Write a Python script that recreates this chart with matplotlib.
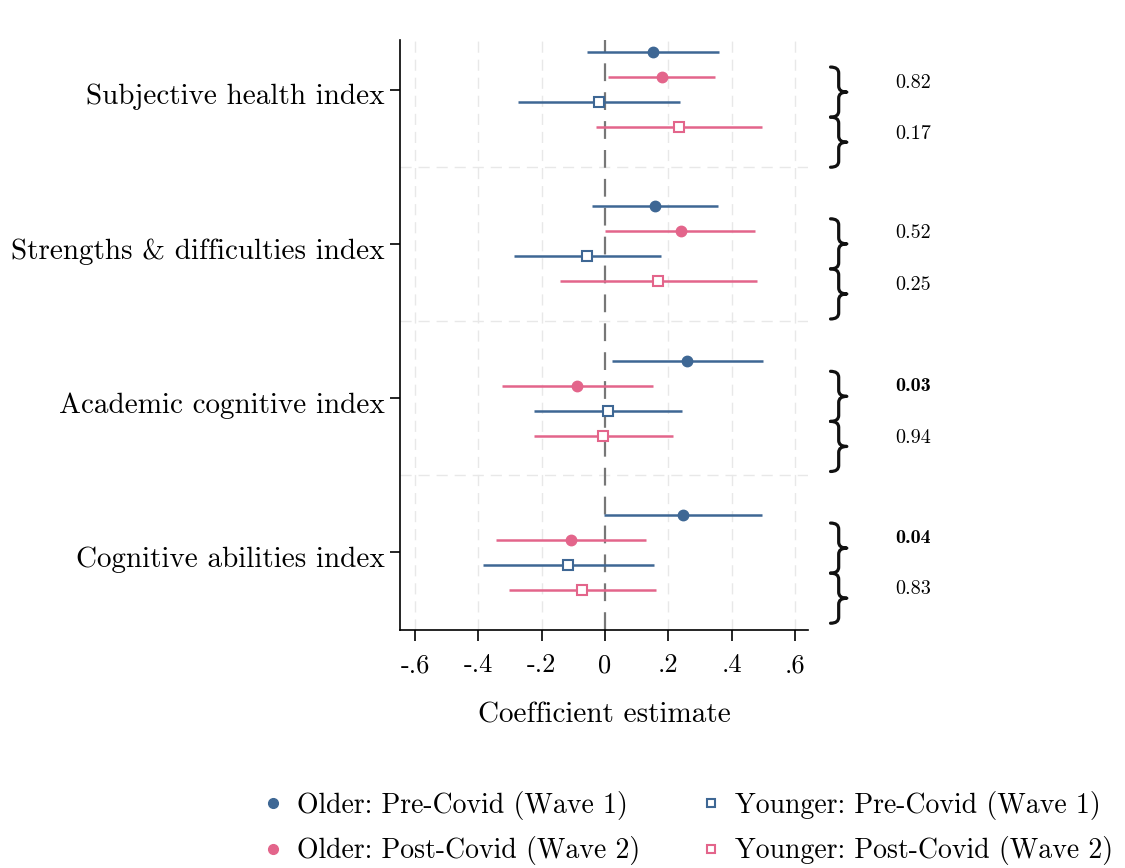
import numpy as np
import matplotlib
matplotlib.use('Agg')
import matplotlib.pyplot as plt
from matplotlib.lines import Line2D
from matplotlib.path import Path
from matplotlib.patches import PathPatch
import matplotlib.transforms as mtransforms

plt.rcParams['font.family'] = 'cmr10'
plt.rcParams['axes.formatter.use_mathtext'] = True

# outcomes (top to bottom)
outcomes = ['Subjective health index', 'Strengths & difficulties index',
            'Academic cognitive index', 'Cognitive abilities index']

# series: estimate, lower CI, upper CI (one value per outcome)
older_pre = [0.153, 0.158, 0.260, 0.245]
older_pre_lo = [-0.058, -0.040, 0.023, -0.003]
older_pre_hi = [0.360, 0.358, 0.498, 0.497]

older_post = [0.180, 0.240, -0.087, -0.108]
older_post_lo = [0.010, 0.000, -0.326, -0.344]
older_post_hi = [0.347, 0.475, 0.153, 0.128]

younger_pre = [-0.020, -0.057, 0.010, -0.116]
younger_pre_lo = [-0.276, -0.288, -0.225, -0.386]
younger_pre_hi = [0.238, 0.177, 0.244, 0.154]

younger_post = [0.233, 0.166, -0.006, -0.072]
younger_post_lo = [-0.030, -0.143, -0.224, -0.303]
younger_post_hi = [0.496, 0.479, 0.214, 0.162]

# p-values for older / younger pre vs post difference
p_older = ['0.82', '0.52', '0.03', '0.04']
p_younger = ['0.17', '0.25', '0.94', '0.83']
p_older_bold = [False, False, True, True]

xticks = [-0.6, -0.4, -0.2, 0, 0.2, 0.4, 0.6]
xticklabels = ['-.6', '-.4', '-.2', '0', '.2', '.4', '.6']

blue = '#3e6794'
pink = '#e3658b'

group_step = 6.16
groups = np.arange(len(outcomes)) * group_step

fig = plt.figure(figsize=(11.25, 8.68), dpi=100)
ax = fig.add_axes([0.3556, 0.2742, 0.3627, 0.6797])

# grid lines
for xt in xticks:
    if xt != 0:
        ax.axvline(xt, color='#e8e8e8', lw=1.0, ls=(0, (8, 5)), zorder=0)
for g in groups[:-1]:
    ax.axhline(g + 4.58, color='#e8e8e8', lw=1.0, ls=(0, (8, 5)), zorder=0)
ax.axvline(0, color='#777777', lw=1.6, ls=(0, (8, 5)), zorder=1)

series = [
    (older_pre, older_pre_lo, older_pre_hi, blue, 'o', blue, 0),
    (older_post, older_post_lo, older_post_hi, pink, 'o', pink, 1),
    (younger_pre, younger_pre_lo, younger_pre_hi, blue, 's', 'white', 2),
    (younger_post, younger_post_lo, younger_post_hi, pink, 's', 'white', 3),
]
for est, lo, hi, col, mk, fc, r in series:
    y = groups + r
    ax.hlines(y, lo, hi, color=col, lw=1.8, zorder=2)
    if mk == 'o':
        ax.plot(est, y, ls='none', marker='o', ms=7.5, color=col, zorder=3)
    else:
        ax.plot(est, y, ls='none', marker='s', ms=6.5, mfc=fc, mec=col,
                mew=1.5, zorder=3)

ax.set_xlim(-0.647, 0.641)
ax.set_ylim(groups[-1] + 3 + 1.6, -0.48)
ax.set_xticks(xticks)
ax.set_xticklabels(xticklabels, fontsize=19)
ax.set_yticks(groups + 1.5)
ax.set_yticklabels([])
ax.tick_params(axis='x', length=8, width=1.2, pad=9)
ax.tick_params(axis='y', length=7, width=1.2)
ax.spines['top'].set_visible(False)
ax.spines['right'].set_visible(False)
ax.spines['left'].set_linewidth(1.2)
ax.spines['bottom'].set_linewidth(1.2)
ax.set_xlabel('Coefficient estimate', fontsize=21, labelpad=18)

trans = mtransforms.blended_transform_factory(ax.transAxes, ax.transData)

# outcome labels, sitting a little below their tick like in Stata
for g, name in zip(groups, outcomes):
    ax.annotate(name, xy=(0, g + 1.5), xycoords=trans, xytext=(-11, -5.5),
                textcoords='offset points', ha='right', va='center',
                fontsize=21)


def brace(ax, x0, y1, y2, w):
    # right-pointing curly brace from y1 (top) to y2 (bottom)
    ym = (y1 + y2) / 2
    d = (y2 - y1) * 0.12
    xm = x0 + w / 2
    verts = [(x0, y1), (xm, y1), (xm, y1 + d),
             (xm, ym - d), (xm, ym), (x0 + w, ym),
             (xm, ym), (xm, ym + d),
             (xm, y2 - d), (xm, y2), (x0, y2)]
    codes = [Path.MOVETO, Path.CURVE3, Path.CURVE3,
             Path.LINETO, Path.CURVE3, Path.CURVE3,
             Path.CURVE3, Path.CURVE3,
             Path.LINETO, Path.CURVE3, Path.CURVE3]
    patch = PathPatch(Path(verts, codes), transform=trans, fill=False,
                      lw=2.3, color='#111111', clip_on=False,
                      capstyle='round', joinstyle='round')
    ax.add_patch(patch)


brace_top = [0.6, 0.5, 0.43, 0.33]
text_off = [1.24, 1.08, 1.03, 0.92]
for i, g in enumerate(groups):
    t = g + brace_top[i]
    brace(ax, 1.055, t, t + 2.0, 0.04)
    brace(ax, 1.055, t + 2.0, t + 4.0, 0.04)
    ax.text(1.257, g + text_off[i], p_older[i], transform=trans,
            ha='center', va='center', fontsize=14.5,
            family='cmb10' if p_older_bold[i] else 'cmr10')
    ax.text(1.257, g + text_off[i] + 2.05, p_younger[i], transform=trans,
            ha='center', va='center', fontsize=14.5, family='cmr10')

handles = [
    Line2D([], [], ls='none', marker='o', ms=7, color=blue),
    Line2D([], [], ls='none', marker='o', ms=7, color=pink),
    Line2D([], [], ls='none', marker='s', ms=6, mfc='white', mec=blue, mew=1.5),
    Line2D([], [], ls='none', marker='s', ms=6, mfc='white', mec=pink, mew=1.5),
]
labels = ['Older: Pre-Covid (Wave 1)', 'Older: Post-Covid (Wave 2)',
          'Younger: Pre-Covid (Wave 1)', 'Younger: Post-Covid (Wave 2)']
fig.legend(handles, labels, ncol=2, loc='center', bbox_to_anchor=(0.613, 0.046),
           frameon=False, fontsize=20, handlelength=0.5, handletextpad=0.6,
           columnspacing=2.3, labelspacing=0.6)

fig.savefig('out.png', dpi=100)
